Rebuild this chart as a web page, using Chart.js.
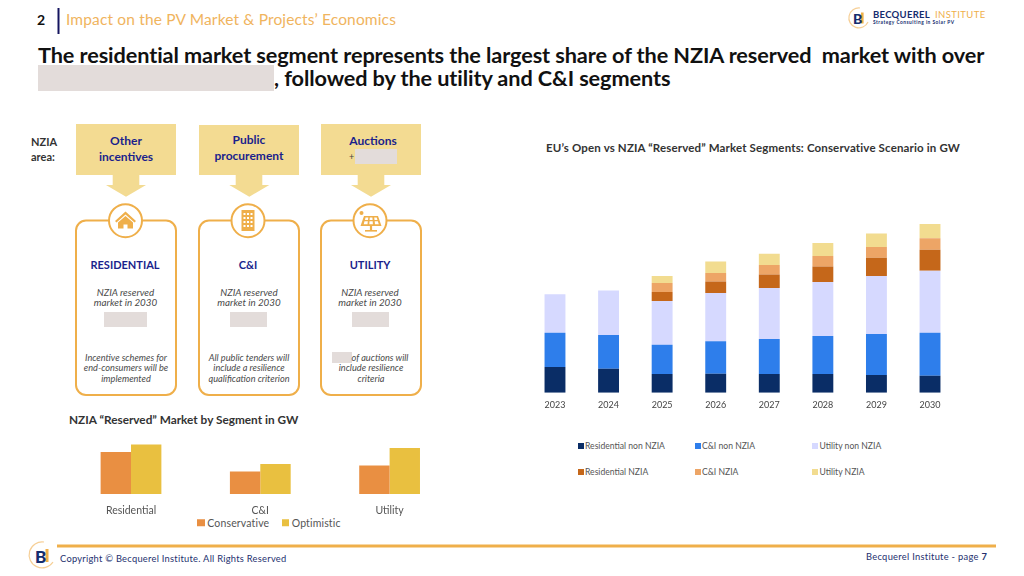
<!DOCTYPE html>
<html><head><meta charset="utf-8">
<script src="https://cdn.jsdelivr.net/npm/chart.js@4/dist/chart.umd.min.js"></script>
<style>
html,body{margin:0;padding:0;background:#fff;width:1024px;height:576px;overflow:hidden;font-family:Lato,sans-serif}
.t{position:absolute;white-space:nowrap;transform:translateY(-50%);line-height:1}
.c{transform:translate(-50%,-50%);text-align:center}
.r{position:absolute;background:#E3DCDA}
.navy{color:#1A1F8C;font-weight:700;font-size:12px}
.it{font-style:italic;color:#4a4a4a;font-size:9.8px}
.bd{font-style:italic;color:#4a4a4a;font-size:9.2px}
canvas{position:absolute}
svg{position:absolute;left:0;top:0}
.li{position:absolute;color:#555;white-space:nowrap;line-height:1;transform:translateY(-50%)}
.ls{position:absolute;transform:translateY(-50%)}
</style></head><body>
<svg width="1024" height="576" viewBox="0 0 1024 576">
  <line x1="58.5" y1="8" x2="58.5" y2="34" stroke="#14145F" stroke-width="2"/>
  <g fill="#F3DB92">
    <rect x="76" y="124" width="100" height="51"/>
    <polygon points="112.7,175 139.3,175 139.3,185 146,185 126,196.7 106,185 112.7,185"/>
    <rect x="199" y="125" width="100" height="50"/>
    <polygon points="235.7,175 262.3,175 262.3,185 269.3,185 249.3,196.7 229.3,185 235.7,185"/>
    <rect x="321" y="124" width="100" height="51"/>
    <polygon points="357.7,175 384.3,175 384.3,185 391,185 371,196.7 351,185 357.7,185"/>
  </g>
  <g fill="#fff" stroke="#EFAF4A" stroke-width="2">
    <rect x="76" y="220.5" width="100" height="174.5" rx="10"/>
    <rect x="199" y="220.5" width="100" height="174.5" rx="10"/>
    <rect x="321" y="220.5" width="100" height="174.5" rx="10"/>
    <circle cx="125.5" cy="220.7" r="16.5"/>
    <circle cx="248" cy="220.7" r="16.5"/>
    <circle cx="370" cy="220.7" r="16.5"/>
  </g>
  <g fill="#EFAF4A">
    <polygon points="115,221 125.5,211.5 136,221 134.5,222.5 125.5,214.5 116.5,222.5"/>
    <path d="M118 222.5 L125.5 216 L133 222.5 V228.5 H127.5 V224.5 H123.5 V228.5 H118 Z"/>
    <path fill-rule="evenodd" d="M241.5 210 H254.5 V231 H241.5 Z M243.5 213 v2 h2 v-2 z M247 213 v2 h2 v-2 z M250.5 213 v2 h2 v-2 z M243.5 217 v2 h2 v-2 z M247 217 v2 h2 v-2 z M250.5 217 v2 h2 v-2 z M243.5 221 v2 h2 v-2 z M247 221 v2 h2 v-2 z M250.5 221 v2 h2 v-2 z M243.5 225 v2 h2 v-2 z M247 225 v2 h2 v-2 z M250.5 225 v2 h2 v-2 z"/>
    <circle cx="361.5" cy="213" r="2"/>
    <path fill-rule="evenodd" d="M364 216 H378 L381.5 226 H360.5 Z M365.5 217.5 l-.5 2.5 h3 l.3 -2.5 z M369.8 217.5 l-.2 2.5 h3 l-.2 -2.5 z M374.2 217.5 l.3 2.5 h3 l-.8 -2.5 z M364.5 221.3 l-.8 3 h3.8 l.3 -3 z M369.5 221.3 l-.2 3 h3.6 l-.2 -3 z M374.7 221.3 l.3 3 h3.8 l-1 -3 z"/>
    <rect x="369.9" y="226" width="2.2" height="4"/><rect x="365" y="230" width="12" height="1.6"/>
  </g>
  <line x1="57" y1="546" x2="996" y2="546" stroke="#EFAF4A" stroke-width="3"/>
  <path d="M860 8 A10 10 0 1 0 868 22" fill="none" stroke="#F6CF96" stroke-width="1.2"/>
  <rect x="861" y="12.5" width="2.6" height="11" fill="#EFAF4A"/>
  <path d="M44 542 A13 13 0 1 0 53 562" fill="none" stroke="#F6CF96" stroke-width="1.2"/>
  <rect x="45.5" y="549" width="3" height="13" fill="#EFAF4A"/>
</svg>

<span class="t" style="left:853px;top:18.5px;font-weight:900;font-size:14px;color:#142C6E">B</span>
<span class="t" style="left:35px;top:555.5px;font-weight:900;font-size:17px;color:#142C6E">B</span>

<span class="t" style="left:37px;top:20px;font-weight:700;font-size:14px;color:#111">2</span>
<span class="t" style="left:66px;top:20px;font-size:15.5px;color:#F0B45E;letter-spacing:.15px">Impact on the PV Market &amp; Projects’ Economics</span>
<span class="t" style="left:38px;top:55.5px;font-weight:700;font-size:21.7px;color:#111;letter-spacing:-.1px">The residential market segment represents the largest share of the NZIA reserved&nbsp; market with over</span>
<div class="r" style="left:38px;top:65px;width:236px;height:26px"></div>
<span class="t" style="left:274px;top:79px;font-weight:700;font-size:21.7px;color:#111;letter-spacing:-.1px">, followed by the utility and C&amp;I segments</span>

<span class="t" style="left:873px;top:14.5px;font-weight:700;font-size:9.5px;color:#142C6E;letter-spacing:.3px">BECQUEREL</span>
<span class="t" style="left:935px;top:14.5px;font-size:9.5px;color:#EFAF4A;letter-spacing:.4px">INSTITUTE</span>
<span class="t" style="left:873px;top:22px;font-size:4.8px;font-weight:700;color:#142C6E;letter-spacing:.5px">Strategy Consulting in Solar PV</span>

<span class="t" style="left:31px;top:141px;font-weight:700;font-size:11px;color:#333">NZIA</span>
<span class="t" style="left:31px;top:156px;font-weight:700;font-size:11px;color:#333">area:</span>

<span class="t c navy" style="left:126px;top:141px">Other</span>
<span class="t c navy" style="left:126px;top:157px">incentives</span>
<span class="t c navy" style="left:249px;top:140px">Public</span>
<span class="t c navy" style="left:249px;top:156px">procurement</span>
<span class="t c navy" style="left:373px;top:141px">Auctions</span>
<span class="t" style="left:349px;top:156px;font-size:9px;color:#444">+</span>
<div class="r" style="left:355px;top:149px;width:42px;height:15px"></div>

<span class="t c navy" style="left:125px;top:263.5px;font-size:11px">RESIDENTIAL</span>
<span class="t c navy" style="left:248px;top:263.5px;font-size:11px">C&amp;I</span>
<span class="t c navy" style="left:370px;top:263.5px;font-size:11px">UTILITY</span>

<span class="t c it" style="left:125.5px;top:293px">NZIA reserved</span><span class="t c it" style="left:125.5px;top:303px">market in 2030</span>
<span class="t c it" style="left:249px;top:293px">NZIA reserved</span><span class="t c it" style="left:249px;top:303px">market in 2030</span>
<span class="t c it" style="left:370px;top:293px">NZIA reserved</span><span class="t c it" style="left:370px;top:303px">market in 2030</span>
<div class="r" style="left:104px;top:312px;width:43px;height:15px"></div>
<div class="r" style="left:230px;top:312px;width:37px;height:15px"></div>
<div class="r" style="left:352px;top:312px;width:37px;height:15px"></div>

<span class="t c bd" style="left:126px;top:358px">Incentive schemes for</span>
<span class="t c bd" style="left:126px;top:368px">end-consumers will be</span>
<span class="t c bd" style="left:126px;top:379px">implemented</span>
<span class="t c bd" style="left:249px;top:358px">All public tenders will</span>
<span class="t c bd" style="left:249px;top:368px">include a resilience</span>
<span class="t c bd" style="left:249px;top:379px">qualification criterion</span>
<div class="r" style="left:332px;top:352px;width:20px;height:11px"></div>
<span class="t bd" style="left:351.5px;top:358px">of auctions will</span>
<span class="t c bd" style="left:371px;top:368px">include resilience</span>
<span class="t c bd" style="left:371px;top:379px">criteria</span>

<span class="t" style="left:69px;top:420px;font-weight:700;font-size:11.8px;color:#333">NZIA “Reserved” Market by Segment in GW</span>
<span class="t" style="left:546px;top:148px;font-weight:700;font-size:11.5px;color:#333;letter-spacing:.15px">EU’s Open vs NZIA “Reserved” Market Segments: Conservative Scenario in GW</span>

<span class="t" style="left:60px;top:559px;font-size:9.3px;color:#23306E;letter-spacing:.27px">Copyright © Becquerel Institute. All Rights Reserved</span>
<span class="t" style="left:866px;top:557px;font-size:9.3px;color:#23306E;letter-spacing:.3px">Becquerel Institute - page <b>7</b></span>

<canvas id="stack" width="450" height="215" style="left:520px;top:200px;width:450px;height:215px"></canvas>
<canvas id="seg" width="416" height="91" style="left:60px;top:425px;width:416px;height:91px"></canvas>
<div id="legend"></div>

<script>
const years = ['2023','2024','2025','2026','2027','2028','2029','2030'];
const residentialNon = [12.8,12,9.3,9.5,9.3,9.3,8.8,8.5];
const ciNon = [17.2,16.8,14.7,16.2,17.5,19,20.5,21.5];
const utilityNon = [19.2,22.3,21.8,24.2,25.5,27,29,31];
const residentialNzia = [0,0,4.5,5.7,6.8,7.8,9.2,10.5];
const ciNzia = [0,0,4.5,4.3,4.7,5.2,5.3,5.7];
const utilityNzia = [0,0,3.5,5.7,5.7,6.5,6.8,7.2];

const segments = ['Residential','C&I','Utility'];
const conservative = [21,11.3,14.2];
const optimistic = [24.7,15,23];

const stackSeries = [
  ['Residential non NZIA',residentialNon,'#0A2D66'],
  ['C&I non NZIA',ciNon,'#2E7EEB'],
  ['Utility non NZIA',utilityNon,'#D6D9FF'],
  ['Residential NZIA',residentialNzia,'#C5671A'],
  ['C&I NZIA',ciNzia,'#EDA566'],
  ['Utility NZIA',utilityNzia,'#F2DC90']
];
const segmentSeries = [
  ['Conservative',conservative,'#E98F42'],
  ['Optimistic',optimistic,'#E9C040']
];

new Chart(document.getElementById('stack'),{
  type:'bar',
  data:{labels:years,datasets:stackSeries.map(s=>({label:s[0],data:s[1],backgroundColor:s[2],borderWidth:0,barPercentage:.39,categoryPercentage:1}))},
  options:{responsive:false,animation:false,devicePixelRatio:1,
    layout:{padding:{left:8.2,right:13.2,top:12.7,bottom:0}},
    plugins:{legend:{display:false},tooltip:{enabled:false}},
    scales:{
      x:{stacked:true,grid:{display:false,drawTicks:false},border:{display:false},
         ticks:{color:'#444',font:{family:'Lato, sans-serif',size:9},padding:7,maxRotation:0},
         afterFit(a){a.height=22.3}},
      y:{stacked:true,display:false,min:0,max:90}
    }}
});

new Chart(document.getElementById('seg'),{
  type:'bar',
  data:{labels:segments,datasets:segmentSeries.map(s=>({label:s[0],data:s[1],backgroundColor:s[2],borderWidth:0,barPercentage:1,categoryPercentage:.47}))},
  options:{responsive:false,animation:false,devicePixelRatio:1,
    layout:{padding:{left:6.35,right:21.75,top:9,bottom:0}},
    plugins:{tooltip:{enabled:false},legend:{display:false}},
    scales:{
      x:{grid:{display:false,drawTicks:false},border:{display:false},
         ticks:{color:'#555',font:{family:'Lato, sans-serif',size:10.5},padding:10.5,maxRotation:0},
         afterFit(a){a.height=22}},
      y:{display:false,min:0,max:30}
    }}
});

/* HTML legends built from the series lists */
const legendHost=document.getElementById('legend');
function addLegend(label,color,x,y,box,tx,fs,ls){
  const sq=document.createElement('div');sq.className='ls';
  sq.style.cssText+=`left:${x}px;top:${y}px;width:${box}px;height:${box}px;background:${color}`;
  const t=document.createElement('span');t.className='li';t.textContent=label;
  t.style.cssText+=`left:${tx}px;top:${y}px;font-size:${fs}px;letter-spacing:${ls}px`;
  legendHost.append(sq,t);
}
const stackCols=[577.5,694.5,812];
const stackRows=[445.5,472];
stackSeries.forEach((s,i)=>{
  const x=stackCols[i%3];
  addLegend(s[0],s[2],x,stackRows[Math.floor(i/3)],6,x+7.5,8.6,0);
});
const segCols=[197.3,281.7];
segmentSeries.forEach((s,i)=>addLegend(s[0],s[2],segCols[i],522.7,7.5,segCols[i]+10,10.5,.15));
</script>
</body></html>
